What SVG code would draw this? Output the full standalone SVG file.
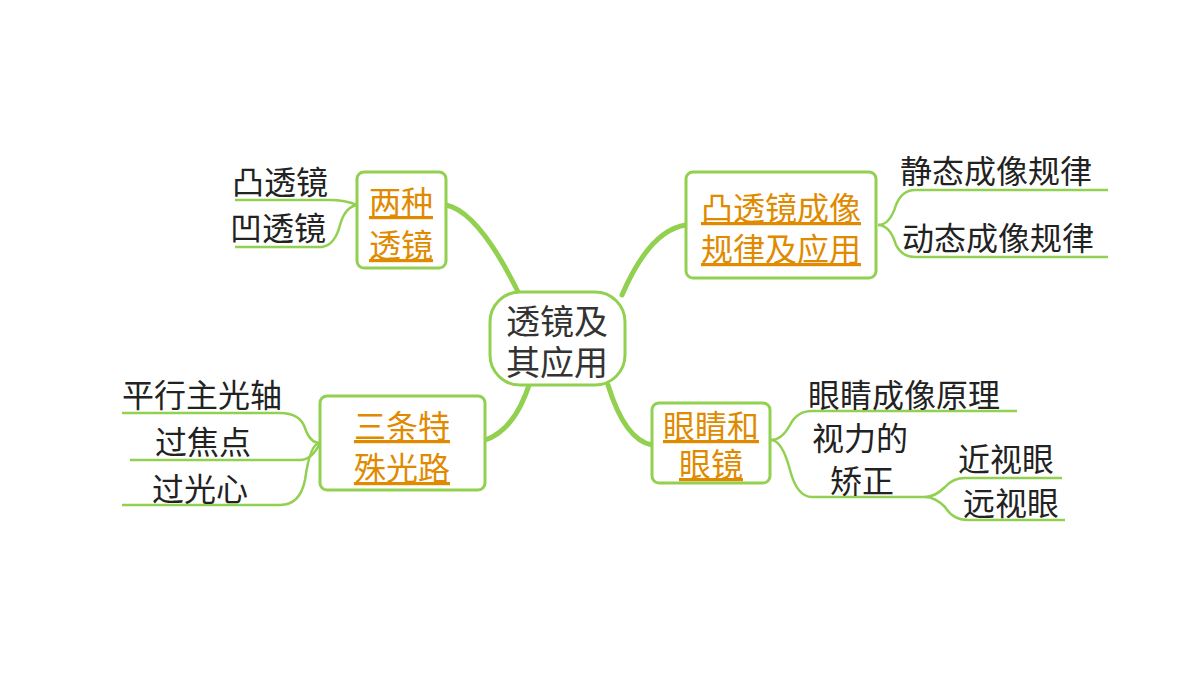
<svg xmlns="http://www.w3.org/2000/svg" width="1200" height="675" viewBox="0 0 1200 675">
<style>
.box{fill:#fff;stroke:#92D050;stroke-width:3}
.t{font-family:"Noto Sans CJK SC","Liberation Sans",sans-serif;font-size:32px;fill:#222}
.o{font-family:"Noto Sans CJK SC","Liberation Sans",sans-serif;font-size:32px;fill:#E08A00;text-decoration:underline}
.c{font-family:"Noto Sans CJK SC","Liberation Sans",sans-serif;font-size:34px;fill:#333}
.main{fill:none;stroke:#92D050;stroke-width:5;stroke-linecap:round}
.thin{fill:none;stroke:#92D050;stroke-width:2.5}
</style>
<rect width="1200" height="675" fill="#fff"/>
<g id="connectors">
<path class="main" d="M446,205 Q480,212 522,300"/>
<path class="main" d="M686,225 Q650,230 622,295"/>
<path class="main" d="M485,440 Q515,430 530,382"/>
<path class="main" d="M652,445 Q625,440 608,385"/>
<path class="thin" d="M235,200 L330,200 Q345,200 357,205"/>
<path class="thin" d="M235,247 L322,247 Q335,245 340,225 Q345,207 357,205"/>
<path class="thin" d="M878,225 Q890,225 896,205 Q902,190 915,190 L1108,190"/>
<path class="thin" d="M878,225 Q890,225 896,245 Q902,257 915,257 L1108,257"/>
<path class="thin" d="M122,413 L280,413 Q300,413 305,428 Q310,443 320,443"/>
<path class="thin" d="M130,460 L300,460 Q312,460 320,443"/>
<path class="thin" d="M122,505 L280,505 Q300,505 305,480 Q310,443 320,443"/>
<path class="thin" d="M771,440 Q782,440 790,425 Q797,411 812,411 L1017,411"/>
<path class="thin" d="M771,440 Q782,440 790,470 Q797,497 812,497 L925,497"/>
<path class="thin" d="M925,497 Q935,497 945,487 Q953,478 965,478 L1062,478"/>
<path class="thin" d="M925,497 Q935,497 945,507 Q953,520 968,520 L1065,520"/>
</g>
<g id="center"><rect class="box" x="490" y="292" width="135" height="93" rx="30"/>
<text class="c" x="557" y="334" text-anchor="middle">透镜及</text>
<text class="c" x="557" y="375" text-anchor="middle">其应用</text></g>
<g id="n-two"><rect class="box" x="357" y="172" width="89" height="96" rx="7"/>
<text class="o" x="401" y="214" text-anchor="middle">两种</text>
<text class="o" x="401" y="257" text-anchor="middle">透镜</text></g>
<g id="n-convex"><rect class="box" x="686" y="172" width="190" height="106" rx="7"/>
<text class="o" x="781" y="220" text-anchor="middle">凸透镜成像</text>
<text class="o" x="781" y="261" text-anchor="middle">规律及应用</text></g>
<g id="n-rays"><rect class="box" x="320" y="396" width="165" height="94" rx="7"/>
<text class="o" x="402" y="438" text-anchor="middle">三条特</text>
<text class="o" x="402" y="480" text-anchor="middle">殊光路</text></g>
<g id="n-eye"><rect class="box" x="652" y="403" width="118" height="80" rx="7"/>
<text class="o" x="711" y="438" text-anchor="middle">眼睛和</text>
<text class="o" x="711" y="476" text-anchor="middle">眼镜</text></g>
<g id="leaves">
<text class="t" x="232" y="194">凸透镜</text>
<text class="t" x="230" y="240">凹透镜</text>
<text class="t" x="900" y="183">静态成像规律</text>
<text class="t" x="902" y="250">动态成像规律</text>
<text class="t" x="122" y="407">平行主光轴</text>
<text class="t" x="155" y="454">过焦点</text>
<text class="t" x="152" y="501">过光心</text>
<text class="t" x="808" y="407">眼睛成像原理</text>
<text class="t" x="812" y="450">视力的</text>
<text class="t" x="830" y="493">矫正</text>
<text class="t" x="958" y="471">近视眼</text>
<text class="t" x="963" y="515">远视眼</text>
</g>
</svg>
